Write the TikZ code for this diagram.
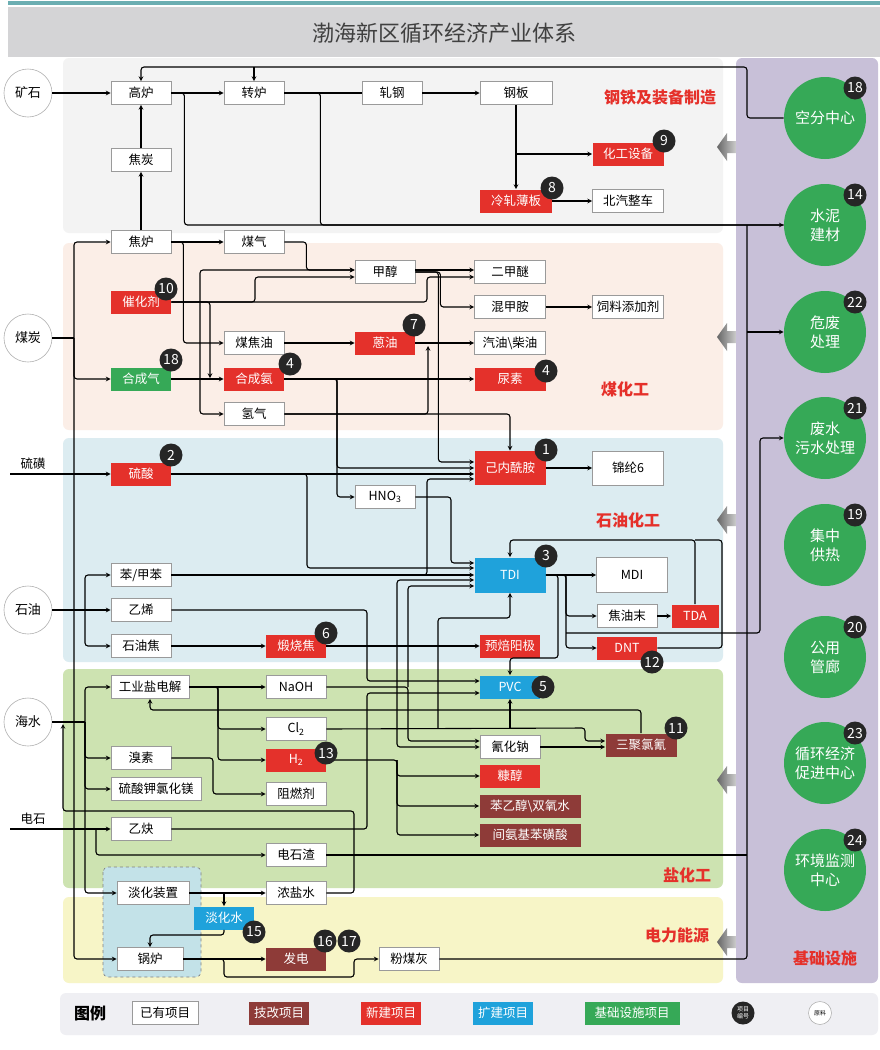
\documentclass[tikz,border=0pt]{standalone}
\usepackage{fontspec}
\setmainfont{Noto Sans CJK SC}
\usepackage{xcolor}
\usetikzlibrary{calc}

\definecolor{newred}{HTML}{E4312B}
\definecolor{techred}{HTML}{8E3B38}
\definecolor{expblue}{HTML}{1FA2DB}
\definecolor{infgreen}{HTML}{36A957}
\definecolor{infpurple}{HTML}{C8C0D8}
\definecolor{steelbg}{HTML}{F3F3F3}
\definecolor{coalbg}{HTML}{FBEEE7}
\definecolor{petrobg}{HTML}{DCECF1}
\definecolor{saltbg}{HTML}{CDE3B1}
\definecolor{powerbg}{HTML}{F7F5C7}
\definecolor{legendbg}{HTML}{EFEFF3}
\definecolor{titlebg}{HTML}{D4D4D6}
\definecolor{titleteal}{HTML}{6BAEB2}
\definecolor{boxline}{HTML}{9A9A9A}
\definecolor{labelred}{HTML}{E5302A}
\definecolor{desalbg}{HTML}{C3E2E8}

\begin{document}
\begin{tikzpicture}[
  x=1pt, y=-1pt,
  >= stealth, % arrow head style
  semithick % line style
  ]

  \tikzstyle{oldbox}=[draw=boxline, line width=0.8pt, fill=white, minimum width=60pt,
    minimum height=23pt, inner sep=1pt, font=\fontsize{12.5}{14}\selectfont]
  \tikzstyle{newbox}=[oldbox, draw=none, fill=newred, text=white]
  \tikzstyle{techbox}=[oldbox, draw=none, fill=techred, text=white]
  \tikzstyle{expbox}=[oldbox, draw=none, fill=expblue, text=white]
  \tikzstyle{infbox}=[oldbox, draw=none, fill=infgreen, text=white]
  \tikzstyle{badge}=[circle, fill=black!85, text=white, minimum size=23pt, inner sep=0pt,
    font=\fontsize{14}{14}\selectfont]
  \tikzstyle{raw}=[circle, draw=gray!60, fill=white, minimum size=48pt, inner sep=0pt,
    font=\fontsize{13}{14}\selectfont]
  \tikzstyle{infc}=[circle, fill=infgreen, text=white, minimum size=82pt, inner sep=0pt,
    align=center, font=\fontsize{15}{19}\selectfont]
  \tikzstyle{seclabel}=[text=labelred, font=\fontsize{16}{18}\selectfont\bfseries]
  \tikzstyle{flow}=[->, line width=1.1pt, rounded corners=3pt]
  \tikzstyle{pipe}=[line width=1.1pt, rounded corners=3pt]
  \tikzstyle{grayarrow}=[left color=black!60, right color=black!20]

  \useasboundingbox (0,0) rectangle (880,1050);
  \fill[white] (0,0) rectangle (880,1050);

  % title
  \fill[titleteal] (8,1) rectangle (880,5);
  \fill[titlebg] (8,7) rectangle (880,57);
  \node[text=black!75, font=\fontsize{22}{24}\selectfont] (title) at (444,33) {渤海新区循环经济产业体系};

  % sections
  \fill[steelbg, rounded corners=6pt] (63,58) rectangle (723,233);
  \fill[coalbg, rounded corners=6pt] (63,243) rectangle (723,430);
  \fill[petrobg, rounded corners=6pt] (63,438) rectangle (723,662);
  \fill[saltbg, rounded corners=6pt] (63,669) rectangle (723,888);
  \fill[powerbg, rounded corners=6pt] (63,897) rectangle (723,983);
  \fill[infpurple, rounded corners=6pt] (736,58) rectangle (878,983);
  \fill[legendbg, rounded corners=6pt] (60,993) rectangle (878,1035);
  \draw[dashed, draw=gray, fill=desalbg, rounded corners=5pt] (103,867) rectangle (201,977);

  % arrows from the infrastructure column
  \shade[grayarrow] (717,147) -- (727,133) -- (727,141) -- (736,141) -- (736,153) -- (727,153) -- (727,161) -- cycle;
  \shade[grayarrow] (717,337) -- (727,323) -- (727,331) -- (736,331) -- (736,343) -- (727,343) -- (727,351) -- cycle;
  \shade[grayarrow] (717,520) -- (727,506) -- (727,514) -- (736,514) -- (736,526) -- (727,526) -- (727,534) -- cycle;
  \shade[grayarrow] (717,780) -- (727,766) -- (727,774) -- (736,774) -- (736,786) -- (727,786) -- (727,794) -- cycle;
  \shade[grayarrow] (717,942) -- (727,928) -- (727,936) -- (736,936) -- (736,948) -- (727,948) -- (727,956) -- cycle;

  \node[seclabel] (lsteel) at (660,97) {钢铁及装备制造};
  \node[seclabel] (lcoal) at (625,389) {煤化工};
  \node[seclabel] (lpetro) at (628,520) {石油化工};
  \node[seclabel] (lsalt) at (687,875) {盐化工};
  \node[seclabel] (lpower) at (677,935) {电力能源};
  \node[seclabel] (linf) at (825,958) {基础设施};

  % raw materials
  \node[raw] (ks) at (28,93) {矿石};
  \node[raw] (mt) at (28,338) {煤炭};
  \node[raw] (sy) at (28,610) {石油};
  \node[raw] (hs) at (28,722) {海水};
  \node[font=\fontsize{12.5}{14}\selectfont] (lh) at (33,464) {硫磺};
  \node[font=\fontsize{12.5}{14}\selectfont] (ds) at (33,819) {电石};
  \coordinate (lhin) at (10,474);
  \coordinate (dsin) at (10,829);

  % steel
  \node[oldbox] (gl) at (141,93) {高炉};
  \node[oldbox] (zl) at (254,93) {转炉};
  \node[oldbox] (zg) at (392,93) {轧钢};
  \node[oldbox, minimum width=72pt] (gb) at (516,93) {钢板};
  \node[oldbox] (jt) at (141,160) {焦炭};
  \node[newbox, minimum width=71pt] (hgsb) at (628,154) {化工设备};
  \node[newbox, minimum width=72pt] (lzbb) at (516,201) {冷轧薄板};
  \node[oldbox, minimum width=71pt] (bqzc) at (628,201) {北汽整车};

  % coal
  \node[oldbox] (jl) at (141,242) {焦炉};
  \node[oldbox] (mq) at (254,242) {煤气};
  \node[oldbox] (jc) at (385,272) {甲醇};
  \node[oldbox, minimum width=71pt] (ejm) at (510,272) {二甲醚};
  \node[oldbox, minimum width=71pt] (hja) at (510,307) {混甲胺};
  \node[oldbox, minimum width=71pt] (slt) at (628,307) {饲料添加剂};
  \node[oldbox, minimum width=71pt] (qy) at (510,343) {汽油\textbackslash 柴油};
  \node[newbox, minimum width=71pt] (ns) at (510,379) {尿素};
  \node[newbox] (chj) at (141,302) {催化剂};
  \node[oldbox] (mjy) at (254,343) {煤焦油};
  \node[newbox] (ey) at (385,343) {蒽油};
  \node[infbox] (hcq) at (141,379) {合成气};
  \node[newbox] (hca) at (254,379) {合成氨};
  \node[oldbox] (qq) at (254,414) {氢气};

  % petrochemical
  \node[newbox] (ls) at (141,474) {硫酸};
  \node[newbox, minimum width=71pt, minimum height=34pt] (nlxa) at (510,468) {己内酰胺};
  \node[oldbox, minimum width=71pt, minimum height=34pt] (jl6) at (628,468) {锦纶6};
  \node[oldbox] (hno) at (385,497) {HNO\textsubscript{3}};
  \node[expbox, minimum width=71pt, minimum height=35pt] (tdi) at (510,575) {TDI};
  \node[oldbox, minimum width=71pt, minimum height=35pt] (mdi) at (632,575) {MDI};
  \node[oldbox] (jym) at (627,616) {焦油末};
  \node[newbox, minimum width=47pt] (tda) at (695,616) {TDA};
  \node[newbox] (dnt) at (627,648) {DNT};
  \node[oldbox] (bjb) at (141,575) {苯/甲苯};
  \node[oldbox] (yx) at (141,610) {乙烯};
  \node[oldbox] (syj) at (141,646) {石油焦};
  \node[newbox] (dsj) at (296,646) {煅烧焦};
  \node[newbox] (ybyj) at (510,646) {预焙阳极};

  % salt
  \node[oldbox, minimum width=78pt] (gyyd) at (150,687) {工业盐电解};
  \node[oldbox] (naoh) at (296,687) {NaOH};
  \node[oldbox] (cl) at (296,729) {Cl\textsubscript{2}};
  \node[newbox] (hh) at (296,760) {H\textsubscript{2}};
  \node[oldbox] (zrj) at (296,794) {阻燃剂};
  \node[oldbox] (xs) at (141,758) {溴素};
  \node[oldbox, minimum width=90pt] (lsj) at (156,789) {硫酸钾氯化镁};
  \node[oldbox] (yq) at (141,829) {乙炔};
  \node[oldbox] (dsz) at (296,855) {电石渣};
  \node[expbox] (pvc) at (510,687) {PVC};
  \node[oldbox] (qhn) at (510,747) {氰化钠};
  \node[techbox, minimum width=71pt] (sjlq) at (641,745) {三聚氯氰};
  \node[newbox] (kc) at (510,776) {糠醇};
  \node[techbox, minimum width=101pt] (byc) at (530,806) {苯乙醇\textbackslash 双氧水};
  \node[techbox, minimum width=101pt] (jaj) at (530,835) {间氨基苯磺酸};

  % power
  \node[oldbox, minimum width=72pt] (dhzz) at (153,893) {淡化装置};
  \node[oldbox] (nys) at (296,893) {浓盐水};
  \node[expbox] (dhs) at (224,918) {淡化水};
  \node[oldbox, minimum width=66pt] (guolu) at (150,959) {锅炉};
  \node[techbox] (fd) at (296,959) {发电};
  \node[oldbox] (fmh) at (409,959) {粉煤灰};

  % infrastructure
  \node[infc] (kfzx) at (825,118) {空分中心};
  \node[infc] (snjc) at (825,225) {水泥\\建材};
  \node[infc] (wfcl) at (825,332) {危废\\处理};
  \node[infc] (fscl) at (825,438) {废水\\污水处理};
  \node[infc] (jzgr) at (825,545) {集中\\供热};
  \node[infc] (gygl) at (825,657) {公用\\管廊};
  \node[infc] (xhjj) at (825,763) {循环经济\\促进中心};
  \node[infc] (hjjc) at (825,870) {环境监测\\中心};

  % buses
  \coordinate (mbus) at (74,338);
  \coordinate (sbus) at (85,610);
  \coordinate (hbus) at (85,722);
  \coordinate (busT) at (747,225);
  \coordinate (topc) at (747,67);

  % steel connectors
  \draw[flow] (ks) -- (gl);
  \draw[flow] (gl) -- (zl);
  \draw[pipe] (zl) -- (zg);
  \draw[flow] (zg) -- (gb);
  \draw[flow] (gb.south) -- (lzbb.north);
  \draw[flow] (gb.south |- hgsb) -- (hgsb.west);
  \draw[flow] (lzbb) -- (bqzc);
  \draw[flow] (jt) -- (gl);
  \draw[flow] (jl) -- (jt);
  \draw[flow] (kfzx.west) -| (topc) -| (gl.north);
  \draw[flow] (topc -| zl.north) -- (zl.north);
  \draw[flow] (gl.east) -- ++(13,0) |- (snjc.west);
  \draw[pipe] (zl.east) -- ++(36,0) |- (snjc.west);

  % coal connectors
  \draw[pipe] (mt.east) -- (mbus);
  \draw[flow] (mbus) |- (jl.west);
  \draw[flow] (mbus) |- (hcq.west);
  \draw[flow] (mbus) |- (guolu.west);
  \draw[flow] (jl) -- (mq);
  \draw[flow] (jl.east) -- ++(12,0) |- (mjy.west);
  \draw[flow] (mq.east) -- ++(22,0) |- ($(jc.west)+(0,-2)$);
  \draw[flow] (hcq) -- (hca);
  \draw[flow] (200,379) |- ($(jc.west)+(0,-2)$);
  \draw[flow] (200,379) |- (qq.west);
  \draw[flow] (chj.east) -| (210,378);
  \draw[flow] (chj.east) -- (255,302) |- ($(jc.west)+(0,5)$);
  \draw[flow] (chj.east) -- (427,302) |- ($(ejm.west)+(0,5)$);
  \draw[flow] ($(jc.east)+(0,-2)$) -- ($(ejm.west)+(0,-2)$);
  \draw[flow] (jc.east) -- ++(25,0) |- (hja.west);
  \draw[flow] (jc.east) -- ++(23,0) |- ($(nlxa.west)+(0,-6)$);
  \draw[flow] (hja) -- (slt);
  \draw[flow] (mjy) -- (ey);
  \draw[flow] (ey) -- (qy);
  \draw[flow] (qq.east) -| (428,346);
  \draw[flow] (qq.east) -| (nlxa.north);
  \draw[flow] (hca) -- (ns);
  \draw[flow] (hca.east) -- (337,379) |- (nlxa.west);
  \draw[flow] (337,379) |- (hno.west);

  % petrochemical connectors
  \draw[flow] (lhin) -- (ls.west);
  \draw[flow] (ls.east) -- ($(nlxa.west)+(0,6)$);
  \draw[flow] (ls.east) -- (307,474) |- ($(tdi.west)+(0,-7)$);
  \draw[flow] (hno.east) -- (451,497) |- ($(tdi.west)+(0,-12)$);
  \draw[flow] (bjb) -- (tdi);
  \draw[flow] (bjb.east) -- (427,575) |- ($(nlxa.west)+(0,11)$);
  \draw[pipe] (sy.east) -- (sbus);
  \draw[flow] (sbus) |- (bjb.west);
  \draw[flow] (sbus) -- (yx.west);
  \draw[flow] (sbus) |- (syj.west);
  \draw[flow] (yx.east) -- (367,610) |- ($(pvc.west)+(0,-6)$);
  \draw[flow] (syj) -- (dsj);
  \draw[flow] (dsj) -- (ybyj);
  \draw[flow] (nlxa) -- (jl6);
  \draw[flow] (tdi) -- (mdi);
  \draw[flow] (tdi.east) -- (566,575) |- (jym.west);
  \draw[flow] (566,575) |- (dnt.west);
  \draw[flow] (tdi.east) -- (558,575) -- (558,658) -| (pvc.north);
  \draw[flow] (jym) -- (tda);
  \draw[flow] (tda.north) -- (695,540) -| (tdi.north);
  \draw[pipe] (dnt.east) -- (722,648) -- (722,540) -- (695,540);
  \draw[flow] (566,633) -- (760,633) |- (fscl.west);

  % salt connectors
  \draw[pipe] (hs.east) -- (hbus);
  \draw[flow] (hbus) |- (gyyd.west);
  \draw[flow] (hbus) |- (xs.west);
  \draw[flow] (hbus) |- (lsj.west);
  \draw[flow] (hbus) |- (dhzz.west);
  \draw[flow] (nys.east) -- (354,893) |- (63,811) -- (63,724);
  \draw[flow] (gyyd) -- (naoh);
  \draw[flow] (gyyd.east) -- (218,687) |- (cl.west);
  \draw[flow] (218,687) |- (hh.west);
  \draw[flow] (sjlq.north) |- (150,710) -- (gyyd.south);
  \draw[flow] (xs.east) -- (213,758) |- (zrj.west);
  \draw[flow] (dsin) -- (yq.west);
  \draw[flow] (96,829) |- (dsz.west);
  \draw[flow] (yq.east) -- (367,829) |- ($(pvc.west)+(0,6)$);
  \draw[flow] (naoh.east) -- (408,687) |- ($(qhn.west)+(0,-6)$);
  \draw[flow] (408,687) |- ($(tdi.west)+(0,11)$);
  \draw[flow] (cl.east) -- (585,728) |- ($(sjlq.west)+(0,-4)$);
  \draw[flow] (397,728) |- ($(tdi.west)+(0,5)$);
  \draw[flow] (397,728) |- (qhn.west);
  \draw[flow] (438,728) |- (510,618) -- (tdi.south);
  \draw[flow] (510,728) -- (pvc.south);
  \draw[flow] (qhn.east) -- (sjlq.west |- qhn.east);
  \draw[flow] (hh.east) -- (397,760) |- (kc.west);
  \draw[flow] (397,760) |- (byc.west);
  \draw[flow] (397,760) |- (jaj.west);
  \draw[pipe] (dsz.east) -- (dsz.east -| busT);

  % power connectors
  \draw[flow] (dhzz) -- (nys);
  \draw[flow] (224,893) -- (dhs.north);
  \draw[flow] (dhs.south) -- (224,935) -| (guolu.north);
  \draw[flow] (guolu) -- (fd);
  \draw[flow] (guolu.east) -- (224,959) |- (354,977) |- (fmh.west);
  \draw[pipe] (fmh.east) -| (busT);
  \draw[flow] (wfcl.west -| busT) -- (wfcl.west);

  % project numbers
  \node[badge] (b9) at (664,141) {9};
  \node[badge] (b8) at (552,188) {8};
  \node[badge] (b10) at (166,289) {10};
  \node[badge] (b7) at (414,325) {7};
  \node[badge] (b18a) at (171,360) {18};
  \node[badge] (b4a) at (290,364) {4};
  \node[badge] (b4b) at (546,371) {4};
  \node[badge] (b2) at (171,455) {2};
  \node[badge] (b1) at (546,450) {1};
  \node[badge] (b3) at (546,556) {3};
  \node[badge] (b12) at (652,662) {12};
  \node[badge] (b6) at (326,633) {6};
  \node[badge] (b5) at (543,687) {5};
  \node[badge] (b11) at (676,728) {11};
  \node[badge] (b13) at (326,753) {13};
  \node[badge] (b15) at (254,932) {15};
  \node[badge] (b16) at (325,941) {16};
  \node[badge] (b17) at (349,941) {17};
  \node[badge] (b18) at (855,88) {18};
  \node[badge] (b14) at (855,195) {14};
  \node[badge] (b22) at (855,302) {22};
  \node[badge] (b21) at (855,408) {21};
  \node[badge] (b19) at (855,515) {19};
  \node[badge] (b20) at (855,627) {20};
  \node[badge] (b23) at (855,733) {23};
  \node[badge] (b24) at (855,840) {24};

  % legend
  \node[font=\fontsize{16}{18}\selectfont\bfseries] (lg) at (90,1013) {图例};
  \node[oldbox, minimum width=66pt] (lgold) at (165,1013) {已有项目};
  \node[techbox] (lgtech) at (279,1013) {技改项目};
  \node[newbox] (lgnew) at (391,1013) {新建项目};
  \node[expbox] (lgexp) at (503,1013) {扩建项目};
  \node[infbox, minimum width=95pt] (lginf) at (632,1013) {基础设施项目};
  \node[badge, align=center, font=\fontsize{6}{6.5}\selectfont] (lgnum) at (743,1013) {项目\\编号};
  \node[raw, minimum size=23pt, font=\fontsize{6}{7}\selectfont] (lgraw) at (820,1013) {原料};
\end{tikzpicture}
\end{document}
